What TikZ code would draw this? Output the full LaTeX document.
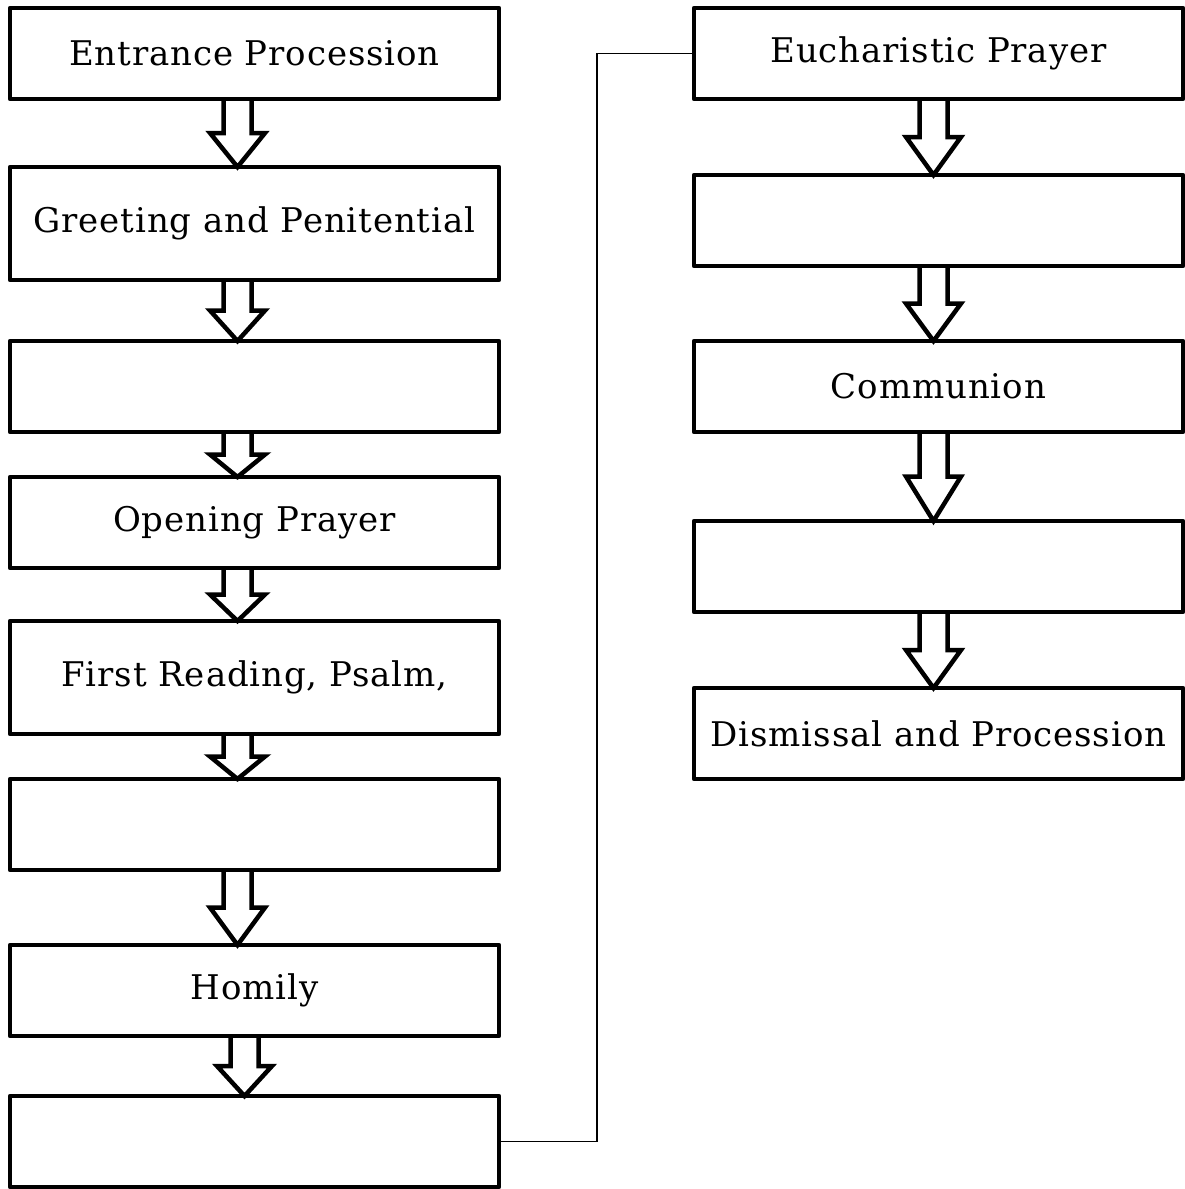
\documentclass[tikz,border=0pt]{standalone}
\usepackage{fontspec}
\setmainfont[LetterSpace=2.6]{DejaVu Serif}
\usetikzlibrary{calc}
\tikzset{
  stepbox/.style={draw, line width=4.5pt, line join=round, minimum width=489pt, inner sep=0pt, outer sep=0pt,
    font=\fontsize{34}{40}\selectfont},
  shortbox/.style={stepbox, minimum height=91pt},
  tallbox/.style={stepbox, minimum height=113pt},
  blockarr/.style={draw, line width=4.5pt, line join=miter},
  link/.style={draw, line width=1.8pt}
}
\newcommand\blockarrow[3]{%
  \path[blockarr] let \p1=(#1.south), \p2=(#2.north), \n1={0.5*(\y1-\y2)} in
    ({\x1+#3-14pt},\y1) -- ({\x1+#3-14pt},{\y2+\n1}) -- ({\x1+#3-27.5pt},{\y2+\n1})
    -- ({\x1+#3},\y2) -- ({\x1+#3+27.5pt},{\y2+\n1}) -- ({\x1+#3+14pt},{\y2+\n1})
    -- ({\x1+#3+14pt},\y1);}
\begin{document}
\begin{tikzpicture}[x=1pt,y=-1pt]
\useasboundingbox (0,0) rectangle (1185,1189);
% left column
\node[shortbox] (l1) at (254.5,53.5) {Entrance Procession};
\node[tallbox]  (l2) at (254.5,223.5) {Greeting and Penitential};
\node[shortbox] (l3) at (254.5,386.5) {};
\node[shortbox] (l4) at (254.5,522.5) {Opening Prayer};
\node[tallbox]  (l5) at (254.5,677.5) {First Reading, Psalm,};
\node[shortbox] (l6) at (254.5,824.5) {};
\node[shortbox] (l7) at (254.5,990.5) {Homily};
\node[shortbox] (l8) at (254.5,1141.5) {};
% right column
\node[shortbox] (r1) at (938.5,53.5) {Eucharistic Prayer};
\node[shortbox] (r2) at (938.5,220.5) {};
\node[shortbox] (r3) at (938.5,386.5) {Communion};
\node[shortbox] (r4) at (938.5,566.5) {};
\node[shortbox] (r5) at (938.5,733.5) {Dismissal and Procession};
% arrows
\blockarrow{l1}{l2}{-17pt}
\blockarrow{l2}{l3}{-17pt}
\blockarrow{l3}{l4}{-17pt}
\blockarrow{l4}{l5}{-17pt}
\blockarrow{l5}{l6}{-17pt}
\blockarrow{l6}{l7}{-17pt}
\blockarrow{l7}{l8}{-10pt}
\blockarrow{r1}{r2}{-5pt}
\blockarrow{r2}{r3}{-5pt}
\blockarrow{r3}{r4}{-5pt}
\blockarrow{r4}{r5}{-5pt}
% connector
\path[link] (l8.east) -- ++(98,0) |- (r1.west);
\end{tikzpicture}
\end{document}
